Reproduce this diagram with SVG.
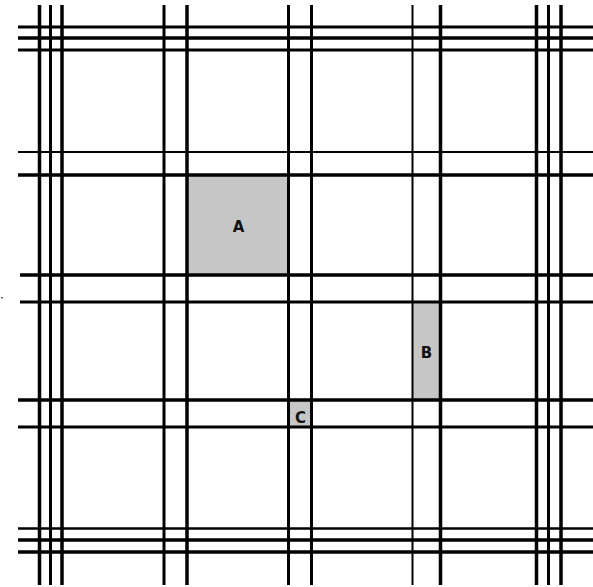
<svg xmlns="http://www.w3.org/2000/svg" width="593" height="587" viewBox="0 0 593 587">
<style>
.bg{fill:#ffffff}
.cell{fill:#c6c6c6}
.l{stroke:#000000;fill:none}
.lbl{font-family:"DejaVu Sans","Liberation Sans",sans-serif;font-weight:bold;font-size:15px;fill:#111111;text-anchor:middle}
</style>
<rect class="bg" x="0" y="0" width="593" height="587"/>
<g id="A"><rect class="cell" x="187" y="175" width="101" height="100"/><text class="lbl" x="238.5" y="231.5">A</text></g>
<g id="B"><rect class="cell" x="412.5" y="302" width="28" height="98"/><text class="lbl" x="426.5" y="357.5">B</text></g>
<g id="C"><rect class="cell" x="288.5" y="400" width="23" height="27"/><text class="lbl" x="300.5" y="423">C</text></g>
<g id="grid">
<line class="l" x1="18" y1="27" x2="593" y2="27" stroke-width="3"/>
<line class="l" x1="18" y1="38" x2="593" y2="38" stroke-width="3.5"/>
<line class="l" x1="18" y1="50" x2="593" y2="50" stroke-width="3"/>
<line class="l" x1="18" y1="152" x2="593" y2="152" stroke-width="2"/>
<line class="l" x1="18" y1="175" x2="593" y2="175" stroke-width="3.5"/>
<line class="l" x1="20" y1="275" x2="593" y2="275" stroke-width="3.5"/>
<line class="l" x1="20" y1="302" x2="593" y2="302" stroke-width="3"/>
<line class="l" x1="18" y1="400" x2="593" y2="400" stroke-width="3.5"/>
<line class="l" x1="18" y1="427" x2="593" y2="427" stroke-width="3"/>
<line class="l" x1="18" y1="528.5" x2="593" y2="528.5" stroke-width="2.5"/>
<line class="l" x1="18" y1="540" x2="593" y2="540" stroke-width="3.5"/>
<line class="l" x1="18" y1="552" x2="593" y2="552" stroke-width="3.5"/>
<line class="l" x1="39.5" y1="5" x2="39.5" y2="585" stroke-width="3.5"/>
<line class="l" x1="50.5" y1="5" x2="50.5" y2="585" stroke-width="3"/>
<line class="l" x1="62" y1="5" x2="62" y2="585" stroke-width="3.5"/>
<line class="l" x1="164" y1="5" x2="164" y2="585" stroke-width="3"/>
<line class="l" x1="187" y1="5" x2="187" y2="585" stroke-width="3.5"/>
<line class="l" x1="288.5" y1="5" x2="288.5" y2="585" stroke-width="3"/>
<line class="l" x1="311.5" y1="5" x2="311.5" y2="585" stroke-width="3"/>
<line class="l" x1="412.5" y1="5" x2="412.5" y2="585" stroke-width="2"/>
<line class="l" x1="440.5" y1="5" x2="440.5" y2="585" stroke-width="3.5"/>
<line class="l" x1="536.5" y1="5" x2="536.5" y2="585" stroke-width="3.5"/>
<line class="l" x1="548.5" y1="5" x2="548.5" y2="585" stroke-width="3"/>
<line class="l" x1="561" y1="5" x2="561" y2="585" stroke-width="3.5"/>
</g>
<rect x="1" y="297" width="2" height="1.5" fill="#666666"/>
</svg>
